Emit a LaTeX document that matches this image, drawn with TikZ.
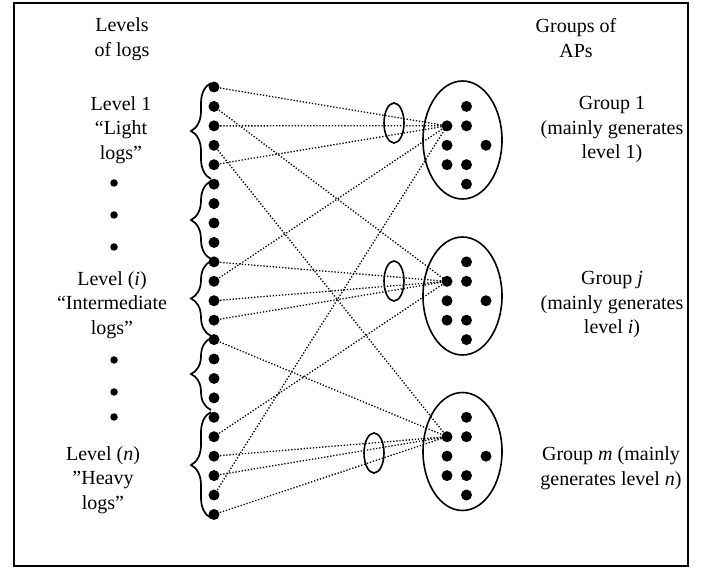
\documentclass[tikz,border=0pt]{standalone}
\usepackage{fontspec}
\setmainfont{Liberation Serif}
\usetikzlibrary{decorations.pathreplacing,shapes.geometric}
\begin{document}
\begin{tikzpicture}[x=1pt,y=-1pt,
  lbl/.style={align=center,font=\fontsize{20}{24.5}\selectfont,inner sep=0pt},
  bigdot/.style={circle,fill=black,inner sep=0pt,minimum size=11pt},
  smalldot/.style={circle,fill=black,inner sep=0pt,minimum size=7.5pt},
  link/.style={line width=1.3pt,dash pattern=on 1.3pt off 1.8pt},
  grp/.style={ellipse,draw,line width=1.6pt,minimum width=79pt,minimum height=118pt,inner sep=0pt},
  lens/.style={ellipse,draw,line width=1.6pt,minimum width=20pt,minimum height=40pt,inner sep=0pt},
  lbrace/.style={decorate,decoration={brace,amplitude=20pt},line width=1.7pt}]
\useasboundingbox (0,0) rectangle (718,569);
\draw[line width=1.6pt] (14,3) rectangle (688,566);

% left column of log dots
\foreach \k in {1,...,23}
  \node[bigdot] (d\k) at (214,{87+19.43*(\k-1)}) {};

% braces
\draw[lbrace] (211,179) -- (211,83);
\draw[lbrace] (211,259) -- (211,181);
\draw[lbrace] (211,336) -- (211,261);
\draw[lbrace] (211,410) -- (211,338);
\draw[lbrace] (211,518) -- (211,412);

% group ellipses
\node[grp] (G1) at (462.5,140) {};
\node[grp] (G2) at (462.5,296) {};
\node[grp] (G3) at (462.5,451.5) {};

% dots inside groups
\foreach \g/\b in {1/106.4,2/261.9,3/417.3}{
  \node[bigdot] (a\g) at (466.5,\b) {};
  \node[bigdot] (t\g) at (447,{\b+19.43}) {};
  \node[bigdot] (b\g) at (466.5,{\b+19.43}) {};
  \node[bigdot] (c\g) at (447,{\b+2*19.43}) {};
  \node[bigdot] (e\g) at (486,{\b+2*19.43}) {};
  \node[bigdot] (f\g) at (447,{\b+3*19.43}) {};
  \node[bigdot] (h\g) at (466.5,{\b+3*19.43}) {};
  \node[bigdot] (p\g) at (466.5,{\b+4*19.43}) {};
}

% links
\foreach \k in {1,3,5,11,22} \draw[link] (d\k.center) -- (t1.center);
\foreach \k in {2,10,12,13,19} \draw[link] (d\k.center) -- (t2.center);
\foreach \k in {4,14,20,21,23} \draw[link] (d\k.center) -- (t3.center);

% small lenses
\node[lens] (L1) at (394,123) {};
\node[lens] (L2) at (394,281) {};
\node[lens] (L3) at (374,453) {};

% left labels
\node[lbl] (hL) at (122,39) {Levels\\of logs};
\node[lbl] (l1) at (121,130) {Level 1\\“Light\\logs”};
\node[lbl] (li) at (112,305) {Level (\textit{i})\\“Intermediate\\logs”};
\node[lbl] (ln) at (103,480) {Level (\textit{n})\\”Heavy\\logs”};
\foreach \y [count=\i] in {183,215,247,360,392,417}
  \node[smalldot] (v\i) at (114,\y) {};

% right labels
\node[lbl] (hR) at (576,38) {Groups of\\APs};
\node[lbl] (g1) at (612,130) {Group 1\\(mainly generates\\level 1)};
\node[lbl] (gj) at (612,305) {Group \textit{j}\\(mainly generates\\level \textit{i})};
\node[lbl] (gm) at (611,468) {Group \textit{m} (mainly\\generates level \textit{n})};
\end{tikzpicture}
\end{document}
